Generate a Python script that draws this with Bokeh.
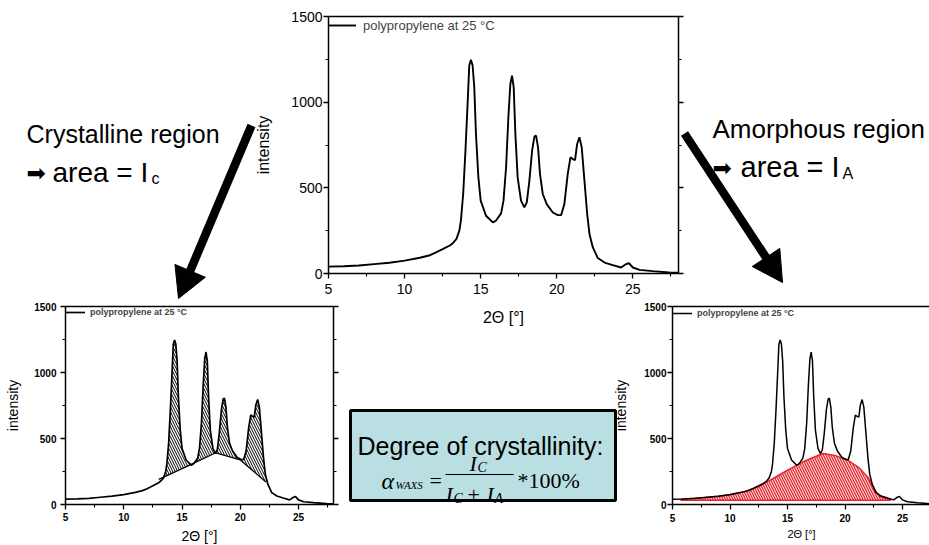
import numpy as np
from bokeh.plotting import figure
from bokeh.models import Range1d, LinearAxis, FixedTicker, Legend, LegendItem
from bokeh.embed import file_html
from bokeh.resources import INLINE
from bokeh.core.properties import value

# ---------------- data ----------------
two_theta = [5.0, 6.0, 7.0, 8.0, 9.0, 10.0, 11.0, 11.6, 12.0, 12.5, 13.0, 13.2, 13.4, 13.6, 13.7,
             13.85, 14.0, 14.15, 14.25, 14.36, 14.47, 14.58, 14.69, 14.85, 15.0, 15.35, 15.8, 16.0,
             16.34, 16.5, 16.67, 16.82, 16.95, 17.06, 17.17, 17.28, 17.43, 17.65, 17.87, 18.03, 18.2,
             18.38, 18.53, 18.64, 18.77, 18.9, 19.08, 19.34, 19.74, 20.07, 20.29, 20.5, 20.72, 20.9,
             21.05, 21.2, 21.34, 21.49, 21.64, 21.82, 22.0, 22.15, 22.37, 22.7, 23.14, 23.68, 24.23,
             24.56, 24.74, 25.0, 25.44, 26.3, 27.4, 28.0]
intensity = [40, 42, 47, 55, 63, 75, 92, 105, 120, 142, 165, 180, 200, 250, 308,
             464, 717, 1009, 1214, 1247, 1214, 1087, 814, 561, 425, 337, 298, 308,
             351, 425, 620, 912, 1106, 1155, 1087, 814, 561, 425, 386, 415, 541,
             717, 799, 805, 736, 580, 464, 405, 356, 341, 341, 405, 580, 678,
             668, 662, 756, 795, 736, 541, 347, 230, 152, 90, 64, 49, 35,
             55, 60, 35, 21, 14, 6, 4]

cryst_base_theta = [13.0, 15.7, 17.9, 20.0, 22.2]
cryst_base_int = [190, 300, 392, 338, 170]

amorph_theta = [5.7, 7.5, 10.0, 11.3, 12.6, 13.5, 14.5, 15.5, 16.5, 17.4, 18.1, 19.1, 20.2,
                21.2, 22.0, 22.6, 23.0, 24.0]
amorph_int = [40, 50, 72, 98, 140, 185, 235, 283, 330, 362, 386, 372, 338,
              280, 205, 110, 60, 36]
amorph_floor = 33

x_major_ticks = [5, 10, 15, 20, 25]
y_major_ticks = [0, 500, 1000, 1500]
legend_text = "polypropylene at 25 °C"
x_title = "2Θ [°]"
y_title = "intensity"

SANS = "Liberation Sans"
SERIF = "Liberation Serif"


def minor_of(ticks):
    t = np.asarray(ticks, dtype=float)
    step = t[1] - t[0]
    return list(np.concatenate([t - step / 2, [t[-1] + step / 2]]))


def style_axis(ax, ticks, tick_px, bold, stand, lab_px, lab_stand, labels=True):
    ax.ticker = FixedTicker(ticks=ticks, minor_ticks=minor_of(ticks))
    ax.axis_line_color = "black"
    ax.axis_line_width = 1.5
    ax.major_tick_line_color = "black"
    ax.major_tick_line_width = 1.3
    ax.minor_tick_line_color = "black"
    ax.minor_tick_line_width = 1.1
    ax.major_tick_in = 0
    ax.major_tick_out = 5
    ax.minor_tick_in = 0
    ax.minor_tick_out = 3
    ax.major_label_text_font = SANS
    ax.major_label_text_font_style = "bold" if bold else "normal"
    ax.major_label_standoff = stand
    ax.axis_label_text_font = SANS
    ax.axis_label_text_font_style = "normal"
    ax.axis_label_text_color = "black"
    ax.axis_label_text_font_size = f"{lab_px}px"
    ax.axis_label_standoff = lab_stand
    ax.major_label_text_font_size = f"{tick_px}px"
    ax.major_label_text_color = "black" if labels else None


def panel(left, top, fw, fh, x_end, mb, tick_px, bold, ylab_px, xlab_px,
          ystand, ylabstand, xstand, xlabstand, right_axis=True):
    p = figure(frame_width=fw, frame_height=fh, x_range=Range1d(5, x_end),
               y_range=Range1d(0, 1500), output_backend="svg", toolbar_location=None,
               min_border_left=mb[0], min_border_top=mb[1], min_border_right=mb[2],
               min_border_bottom=mb[3], background_fill_color=None,
               border_fill_color=None, outline_line_color=None)
    p.grid.visible = False
    p.styles = {"position": "absolute", "left": f"{left}px", "top": f"{top}px"}
    xa = p.xaxis[0]
    ya = p.yaxis[0]
    xa.axis_label = x_title
    ya.axis_label = y_title
    style_axis(xa, x_major_ticks, tick_px, bold, xstand, xlab_px, xlabstand)
    style_axis(ya, y_major_ticks, tick_px, bold, ystand, ylab_px, ylabstand)
    ta = LinearAxis()
    style_axis(ta, x_major_ticks, 2, bold, 0, 2, 0, labels=False)
    ta.major_tick_out = 0
    ta.minor_tick_out = 0
    p.add_layout(ta, "above")
    if right_axis:
        ra = LinearAxis()
        style_axis(ra, y_major_ticks, 2, bold, 0, 2, 0, labels=False)
        p.add_layout(ra, "right")
    return p


def add_curve(p, lw, leg):
    r = p.line(two_theta, intensity, line_color="black", line_width=lw)
    legend = Legend(items=[LegendItem(label=legend_text, renderers=[r])],
                    location="top_left", margin=0, padding=leg["pad"],
                    glyph_width=leg["gw"], glyph_height=leg["gh"], label_height=leg["gh"],
                    label_standoff=leg["st"], border_line_color=None,
                    background_fill_alpha=0, label_text_font=SANS,
                    label_text_font_size=leg["fs"], label_text_font_style=leg["style"],
                    spacing=0)
    p.add_layout(legend)
    return r


# ---------------- background canvas (texts, arrows, formula box) ----------------
W, H = 929, 545
canvas = figure(width=W, height=H, x_range=Range1d(0, W), y_range=Range1d(H, 0),
                output_backend="svg", toolbar_location=None, min_border=0,
                x_axis_location=None, y_axis_location=None, outline_line_color=None,
                background_fill_color="white", border_fill_color="white")
canvas.grid.visible = False
canvas.styles = {"position": "absolute", "left": "0px", "top": "0px"}


def txt(x, y, s, size, font=SANS, style="normal"):
    canvas.text(x=[x], y=[y], text=[s], text_font=value(font), text_font_size=f"{size}px",
                text_font_style=style, text_baseline="alphabetic", text_align="left",
                text_color="black")


txt(26, 133, "Crystalline region", 25)
txt(26, 172, "➡", 23, font="DejaVu Sans")
txt(52, 172, "area = I", 28)
txt(151, 178, "c", 16)
txt(712, 128, "Amorphous region", 26)
txt(712, 167, "➡", 23, font="DejaVu Sans")
txt(740, 166, "area = I", 29)
txt(842, 173, "A", 16)


def big_arrow(x0, y0, x1, y1, shaft_w=8.5, head_len=30, head_w=33):
    d = np.array([x1 - x0, y1 - y0], dtype=float)
    u = d / np.hypot(*d)
    n = np.array([-u[1], u[0]])
    base = np.array([x1, y1]) - head_len * u
    shaft_end = base + 3 * u
    canvas.segment(x0=[x0], y0=[y0], x1=[shaft_end[0]], y1=[shaft_end[1]],
                   line_width=shaft_w, line_color="black", line_cap="butt")
    c1 = base + n * head_w / 2
    c2 = base - n * head_w / 2
    canvas.patch([x1, c1[0], c2[0]], [y1, c1[1], c2[1]], fill_color="black",
                 line_color="black", line_width=1)


big_arrow(251, 125, 178, 298)
big_arrow(684, 133, 782, 282)

# formula box
canvas.quad(left=[350], right=[615], top=[410], bottom=[500], fill_color="#b9dfe3",
            line_color="black", line_width=3)
txt(357, 445, "Degree of crystallinity:", 25)
txt(381, 480, "α", 24, font=SERIF, style="italic")
txt(395, 484, "WAXS", 11, font=SERIF, style="italic")
txt(429, 480, "=", 22, font=SERIF)
canvas.segment(x0=[445], y0=[474], x1=[513], y1=[474], line_width=1.2, line_color="black")
txt(469, 463, "I", 22, font=SERIF, style="italic")
txt(477, 467, "C", 14, font=SERIF, style="italic")
txt(445, 494, "I", 22, font=SERIF, style="italic")
txt(453, 498, "C", 14, font=SERIF, style="italic")
txt(467, 494, "+", 22, font=SERIF)
txt(486, 494, "I", 22, font=SERIF, style="italic")
txt(494, 498, "A", 14, font=SERIF, style="italic")
txt(517, 480, "*100%", 22, font=SERIF)

# ---------------- top plot ----------------
top_p = panel(250, 0, 350, 257, 28.0, (78, 16, 10, 52), 14, False, 16, 16,
              1, 16, 5, 12)
add_curve(top_p, 1.9, dict(pad=4, gw=28, gh=18, st=7, fs="13px", style="normal"))

# ---------------- bottom-left plot (crystalline) ----------------
bl_p = panel(0, 290, 268, 198, 28.0, (65, 16, 8, 41), 10, True, 14, 14,
             4, 10, 3, 4)
lo, hi = cryst_base_theta[0], cryst_base_theta[-1]
ux = np.unique(np.concatenate([[t for t in two_theta if lo <= t <= hi], cryst_base_theta]))
base_u = np.interp(ux, cryst_base_theta, cryst_base_int)
curve_u = np.interp(ux, two_theta, intensity)
bl_p.varea(x=ux, y1=base_u, y2=np.maximum(curve_u, base_u), fill_color="white",
           fill_alpha=0, hatch_pattern="\\", hatch_color="black", hatch_scale=5,
           hatch_weight=1.0)
bl_p.line(cryst_base_theta, cryst_base_int, line_color="black", line_width=1.3)
add_curve(bl_p, 1.7, dict(pad=3, gw=20, gh=12, st=5, fs="9px", style="bold"))

# ---------------- bottom-right plot (amorphous) ----------------
br_p = panel(610, 290, 258, 198, 5 + 258 / 11.5, (61, 16, 0, 41), 10, True, 14, 11,
             1, 12, 4, 3, right_axis=False)
floor = [amorph_floor] * len(amorph_theta)
br_p.varea(x=amorph_theta, y1=floor, y2=amorph_int, fill_color="#e8232b",
           hatch_pattern="\\", hatch_color="white", hatch_scale=5, hatch_weight=1.0)
br_p.line(amorph_theta, amorph_int, line_color="#e8232b", line_width=1.5)
br_p.line([amorph_theta[0], amorph_theta[-1]], [amorph_floor, amorph_floor],
          line_color="#e8232b", line_width=1.5)
add_curve(br_p, 1.5, dict(pad=2, gw=20, gh=14, st=5, fs="9px", style="bold"))

open("out.html", "w").write(file_html([canvas, top_p, bl_p, br_p], INLINE))
